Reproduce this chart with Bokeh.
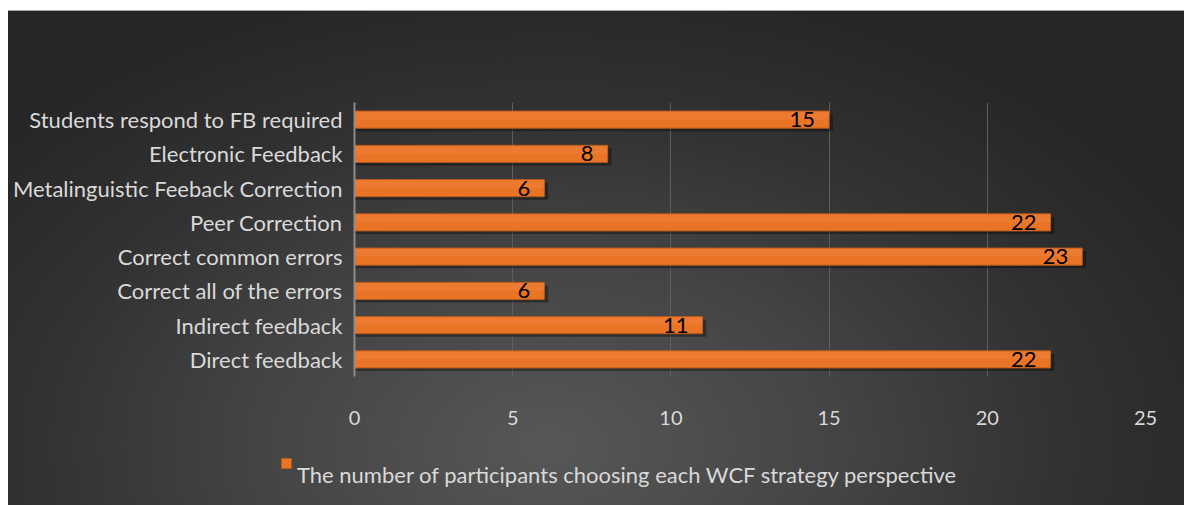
from bokeh.plotting import figure
from bokeh.models import (ColumnDataSource, FactorRange, Range1d, FixedTicker,
                          Column, Div)
from bokeh.transform import dodge
from bokeh.embed import file_html
from bokeh.resources import INLINE
from bokeh.core.properties import value

# WCF strategies (bottom to top) and how many participants chose each
strategies = [
    "Direct feedback",
    "Indirect feedback",
    "Correct all of the errors",
    "Correct common errors",
    "Peer Correction",
    "Metalinguistic Feeback Correction",
    "Electronic Feedback",
    "Students respond to FB required",
]
participants = [22, 11, 6, 23, 22, 6, 8, 15]
x_ticks = [0, 5, 10, 15, 20, 25]
series_name = "The number of participants choosing each WCF strategy perspective"

FONT = "Lato"
LIGHT = "#d9d9d9"
BAR_FILL = "#ea7426"
BAR_LINE = "#b65a1c"

source = ColumnDataSource(dict(
    strategy=strategies,
    count=participants,
    label=[str(v) for v in participants],
    shadow_right=[v + 0.12 for v in participants],
))

p = figure(
    width=1176, height=440,
    y_range=FactorRange(*strategies, range_padding=0),
    x_range=Range1d(0, 25),
    output_backend="svg", toolbar_location=None,
    min_border_left=346, min_border_right=39,
    min_border_top=91, min_border_bottom=75,
)
p.background_fill_color = None
p.border_fill_color = None
p.outline_line_color = None

# soft drop shadow under each bar
p.hbar(y=dodge("strategy", -0.09, range=p.y_range), right="shadow_right", left=0,
       height=0.5, source=source, fill_color="black", fill_alpha=0.35, line_color=None)

p.hbar(y="strategy", right="count", left=0, height=0.5, source=source,
       fill_color=BAR_FILL, line_color=BAR_LINE, line_width=1)
# lighter top sheen on each bar
p.hbar(y=dodge("strategy", 0.12, range=p.y_range), right="count", left=0,
       height=0.22, source=source, fill_color="#f28a48", fill_alpha=0.35, line_color=None)

p.text(x="count", y="strategy", text="label", source=source,
       text_align="right", text_baseline="middle", x_offset=-14, y_offset=0,
       text_font=value(FONT), text_font_size="22px", text_color="black")

# axes
p.xaxis.ticker = FixedTicker(ticks=x_ticks)
p.xaxis.axis_line_color = None
p.xaxis.major_tick_line_color = None
p.xaxis.minor_tick_line_color = None
p.xaxis.major_label_standoff = 28
p.xaxis.major_label_text_font = FONT
p.xaxis.major_label_text_font_size = "20px"
p.xaxis.major_label_text_color = LIGHT

p.yaxis.axis_line_color = "#8c8c8c"
p.yaxis.axis_line_width = 2
p.yaxis.major_tick_line_color = None
p.yaxis.minor_tick_line_color = None
p.yaxis.major_label_standoff = 6
p.yaxis.major_label_text_font = FONT
p.yaxis.major_label_text_font_size = "22px"
p.yaxis.major_label_text_color = LIGHT

p.xgrid.ticker = FixedTicker(ticks=x_ticks)
p.xgrid.grid_line_color = "#5e5e5e"
p.xgrid.grid_line_width = 1
p.ygrid.grid_line_color = None

# series key under the chart
key = Div(width=1176, height=55, text=(
    f'<div style="padding-left:268px;padding-top:6px;font-family:{FONT};'
    f'font-size:22px;line-height:26px;color:{LIGHT};white-space:nowrap">'
    f'<span style="display:inline-block;width:11px;height:11px;background:{BAR_FILL};'
    f'border:1px solid {BAR_LINE};vertical-align:top;position:relative;top:-4px;'
    f'margin-right:5px"></span>{series_name}</div>'
))

page = Column(p, key, width=1176, height=495, spacing=0, styles={
    "margin-top": "10px",
    "margin-left": "8px",
    "border-top": "1px solid #a8a8a8",
    "background": "radial-gradient(ellipse 62% 95% at 46% 88%, #575757 0%, #444444 40%, #323232 70%, #262626 100%)",
})

open("out.html", "w").write(file_html(page, INLINE))
